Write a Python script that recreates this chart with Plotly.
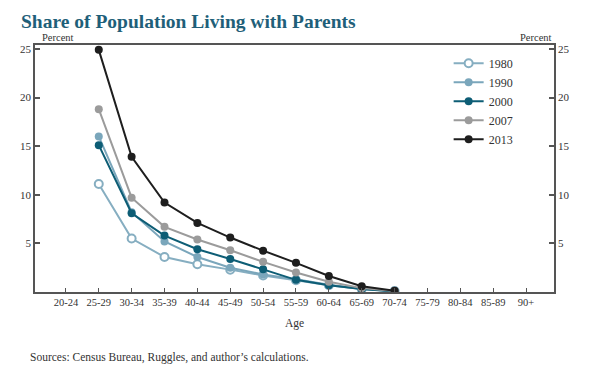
import plotly.graph_objects as go

ages = ["20-24", "25-29", "30-34", "35-39", "40-44", "45-49", "50-54", "55-59",
        "60-64", "65-69", "70-74", "75-79", "80-84", "85-89", "90+"]
data_ages = ["25-29", "30-34", "35-39", "40-44", "45-49", "50-54", "55-59",
             "60-64", "65-69", "70-74"]

y1980 = [11.1, 5.5, 3.6, 2.85, 2.3, 1.7, 1.2, 0.7, 0.3, 0.1]
y1990 = [16.0, 8.2, 5.2, 3.6, 2.5, 1.8, 1.3, 0.75, 0.3, 0.1]
y2000 = [15.1, 8.1, 5.8, 4.4, 3.4, 2.35, 1.25, 0.7, 0.3, 0.05]
y2007 = [18.8, 9.7, 6.7, 5.4, 4.3, 3.1, 2.0, 1.05, 0.4, 0.1]
y2013 = [24.9, 13.9, 9.2, 7.1, 5.6, 4.25, 3.0, 1.65, 0.6, 0.13]

series = [
    ("1980", y1980, "#86aec1", True),
    ("1990", y1990, "#7aa6bb", False),
    ("2000", y2000, "#0d5d75", False),
    ("2007", y2007, "#9b9b9b", False),
    ("2013", y2013, "#1e1e1e", False),
]

serif = "Liberation Serif, Times New Roman, serif"
axis_color = "#555555"
text_color = "#333333"

fig = go.Figure()
for name, vals, col, hollow in series:
    fig.add_trace(go.Scatter(
        x=data_ages, y=vals, name=name, mode="lines+markers",
        line=dict(color=col, width=2),
        marker=dict(size=8, color="white" if hollow else col,
                    line=dict(color=col, width=2 if hollow else 0)),
    ))

# invisible trace to activate right-hand axis
fig.add_trace(go.Scatter(x=data_ages, y=y2013, yaxis="y2", showlegend=False,
                         mode="lines", line=dict(width=0), opacity=0,
                         hoverinfo="skip"))

ymax = 25.4
fig.update_layout(
    width=590, height=368,
    margin=dict(l=24, r=44, t=37, b=84),
    paper_bgcolor="white", plot_bgcolor="white",
    font=dict(family=serif, size=11, color=text_color),
    showlegend=True,
    legend=dict(x=0.797, y=0.985, xanchor="left", yanchor="top",
                bgcolor="rgba(0,0,0,0)", font=dict(size=12, color=text_color),
                itemwidth=30, tracegroupgap=0),
    xaxis=dict(type="category", categoryorder="array", categoryarray=ages,
               range=[-0.94, 14.85], showgrid=False, zeroline=False,
               showline=True, linecolor=axis_color, linewidth=1.5, mirror=True,
               ticks="inside", ticklen=4, tickwidth=1, tickcolor=axis_color,
               tickfont=dict(size=10.5, color=text_color),
               title=dict(text="Age", font=dict(size=11.5, color=text_color), standoff=12)),
    yaxis=dict(range=[0, ymax], tickvals=[5, 10, 15, 20, 25], showgrid=False,
               zeroline=False, showline=True, linecolor=axis_color, linewidth=1.5,
               ticks="inside", ticklen=5, tickwidth=1.5, tickcolor=axis_color,
               tickfont=dict(size=11, color=text_color)),
    yaxis2=dict(range=[0, ymax], tickvals=[5, 10, 15, 20, 25], overlaying="y",
                side="right", showgrid=False, zeroline=False, showline=True,
                linecolor=axis_color, linewidth=1.5,
                ticks="inside", ticklen=5, tickwidth=1.5, tickcolor=axis_color,
                tickfont=dict(size=11, color=text_color)),
    annotations=[
        dict(text="<b>Share of Population Living with Parents</b>", xref="paper",
             yref="paper", x=-0.03, y=1.0, xanchor="left", yanchor="bottom",
             yshift=11, showarrow=False,
             font=dict(family=serif, size=19.5, color="#1f5f79")),
        dict(text="Percent", xref="paper", yref="paper", x=0.01, y=1.0,
             xanchor="left", yanchor="bottom", showarrow=False,
             font=dict(size=10.5, color=text_color)),
        dict(text="Percent", xref="paper", yref="paper", x=1.0, y=1.0,
             xanchor="right", yanchor="bottom", showarrow=False,
             font=dict(size=10.5, color=text_color)),
        dict(text="Sources: Census Bureau, Ruggles, and author\u2019s calculations.",
             xref="paper", yref="paper", x=-0.013, y=-0.23, xanchor="left",
             yanchor="top", showarrow=False, font=dict(size=11.5, color=text_color)),
    ],
)

fig.write_html("out.html")
